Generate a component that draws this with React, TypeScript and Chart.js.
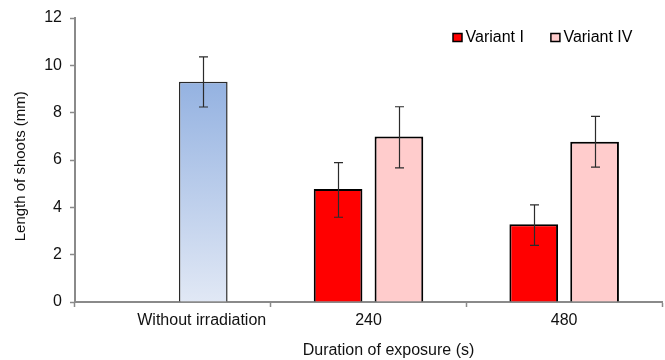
import React, { useEffect, useRef } from "react";
import { Chart, registerables } from "chart.js";

Chart.register(...registerables);

const categories = ["Without irradiation", "240", "480"];
const seriesNames = ["Variant I", "Variant IV"];
const variantI = [null, 4.77, 3.28];
const variantILow = [null, 3.58, 2.39];
const variantIHigh = [null, 5.89, 4.1];
const variantIV = [9.31, 6.99, 6.77];
const variantIVLow = [8.24, 5.67, 5.7];
const variantIVHigh = [10.36, 8.25, 7.84];
const yTicks = [0, 2, 4, 6, 8, 10, 12];

const FONT = "'Liberation Sans', Arial, sans-serif";

const errorBarPlugin = {
  id: "errorBars",
  afterDatasetsDraw(chart: any) {
    const ctx = chart.ctx;
    const y = chart.scales.y;
    chart.data.datasets.forEach((ds: any, di: number) => {
      const meta = chart.getDatasetMeta(di);
      meta.data.forEach((el: any, i: number) => {
        const lo = ds.errLow?.[i];
        const hi = ds.errHigh?.[i];
        if (lo == null || hi == null || ds.data[i] == null) return;
        const x = Math.round(el.x) + 0.5;
        const yl = y.getPixelForValue(lo);
        const yh = y.getPixelForValue(hi);
        ctx.save();
        ctx.strokeStyle = "#2b2b2b";
        ctx.lineWidth = 1.2;
        ctx.beginPath();
        ctx.moveTo(x, yl);
        ctx.lineTo(x, yh);
        ctx.moveTo(x - 4.5, yl);
        ctx.lineTo(x + 4.5, yl);
        ctx.moveTo(x - 4.5, yh);
        ctx.lineTo(x + 4.5, yh);
        ctx.stroke();
        ctx.restore();
      });
    });
  },
};

const legendPlugin = {
  id: "insideLegend",
  afterDraw(chart: any) {
    const ctx = chart.ctx;
    const area = chart.chartArea;
    let x = area.right - 209;
    const yMid = area.top + 19.5;
    ctx.save();
    ctx.font = `16px ${FONT}`;
    ctx.textBaseline = "middle";
    ctx.textAlign = "left";
    chart.data.datasets.forEach((ds: any) => {
      ctx.fillStyle = ds.legendColor;
      ctx.fillRect(x, yMid - 4, 9, 8);
      ctx.strokeStyle = "#000";
      ctx.lineWidth = 1.5;
      ctx.strokeRect(x, yMid - 4, 9, 8);
      ctx.fillStyle = "#000";
      ctx.fillText(ds.label, x + 12.5, yMid);
      x += 12.5 + ctx.measureText(ds.label).width + 27;
    });
    ctx.restore();
  },
};

export default function App() {
  const ref = useRef<HTMLCanvasElement>(null);
  useEffect(() => {
    document.body.style.margin = "0";
    const canvas = ref.current!;
    const blueFill = (c: any) => {
      const chart = c.chart;
      const ys = chart.scales?.y;
      if (!ys || !chart.chartArea) return "#b6c8ea";
      const top = ys.getPixelForValue(variantIV[0] as number);
      const bottom = ys.getPixelForValue(0);
      const g = chart.ctx.createLinearGradient(0, top, 0, bottom);
      g.addColorStop(0, "#94b2e1");
      g.addColorStop(1, "#e1e8f5");
      return g;
    };
    const chart = new Chart(canvas, {
      type: "bar",
      data: {
        labels: categories,
        datasets: [
          {
            label: seriesNames[0],
            data: variantI,
            errLow: variantILow,
            errHigh: variantIHigh,
            legendColor: "#ff0000",
            backgroundColor: "#ff0000",
            borderColor: "#000000",
            borderWidth: 2,
          } as any,
          {
            label: seriesNames[1],
            data: variantIV,
            errLow: variantIVLow,
            errHigh: variantIVHigh,
            legendColor: "#ffcccc",
            backgroundColor: (c: any) => (c.dataIndex === 0 ? blueFill(c) : "#ffcccc"),
            borderColor: (c: any) => (c.dataIndex === 0 ? "#2a2a2a" : "#000000"),
            borderWidth: (c: any) => (c.dataIndex === 0 ? 1.5 : 2),
          } as any,
        ],
      },
      options: {
        animation: false,
        responsive: true,
        maintainAspectRatio: false,
        layout: { padding: { top: 18, right: 3, left: 0, bottom: 0 } },
        datasets: { bar: { categoryPercentage: 0.622, barPercentage: 0.8 } },
        plugins: { legend: { display: false }, tooltip: { enabled: false } },
        scales: {
          x: {
            afterFit: (s: any) => {
              s.height = 58;
            },
            grid: {
              offset: true,
              drawOnChartArea: false,
              tickLength: 5,
              tickColor: "#8a8a8a",
              tickWidth: 1.5,
            },
            border: { color: "#8a8a8a", width: 2 },
            ticks: {
              font: { family: FONT, size: 16 },
              color: "#111",
              padding: 4,
              maxRotation: 0,
              autoSkip: false,
              callback: (v: any, i: number) =>
                i === 0 ? " ".repeat(13) + categories[i] : categories[i],
            },
            title: {
              display: true,
              text: " ".repeat(9) + "Duration of exposure (s)",
              font: { family: FONT, size: 16 },
              color: "#111",
              padding: { top: 0, bottom: 0 },
            },
          },
          y: {
            min: 0,
            max: 12,
            afterFit: (s: any) => {
              s.width = 75;
            },
            afterBuildTicks: (s: any) => {
              s.ticks = yTicks.map((v) => ({ value: v }));
            },
            grid: {
              drawOnChartArea: false,
              tickLength: 5,
              tickColor: "#8a8a8a",
              tickWidth: 1.5,
            },
            border: { color: "#8a8a8a", width: 2 },
            ticks: {
              font: { family: FONT, size: 16 },
              color: "#111",
              padding: 8,
            },
            title: {
              display: true,
              text: "Length of shoots (mm)" + " ".repeat(3),
              font: { family: FONT, size: 15 },
              color: "#111",
              padding: { top: 12, bottom: 0 },
            },
          },
        },
      },
      plugins: [errorBarPlugin, legendPlugin],
    });
    return () => chart.destroy();
  }, []);
  return (
    <div style={{ width: 665, height: 360, position: "relative" }}>
      <canvas ref={ref} />
    </div>
  );
}
